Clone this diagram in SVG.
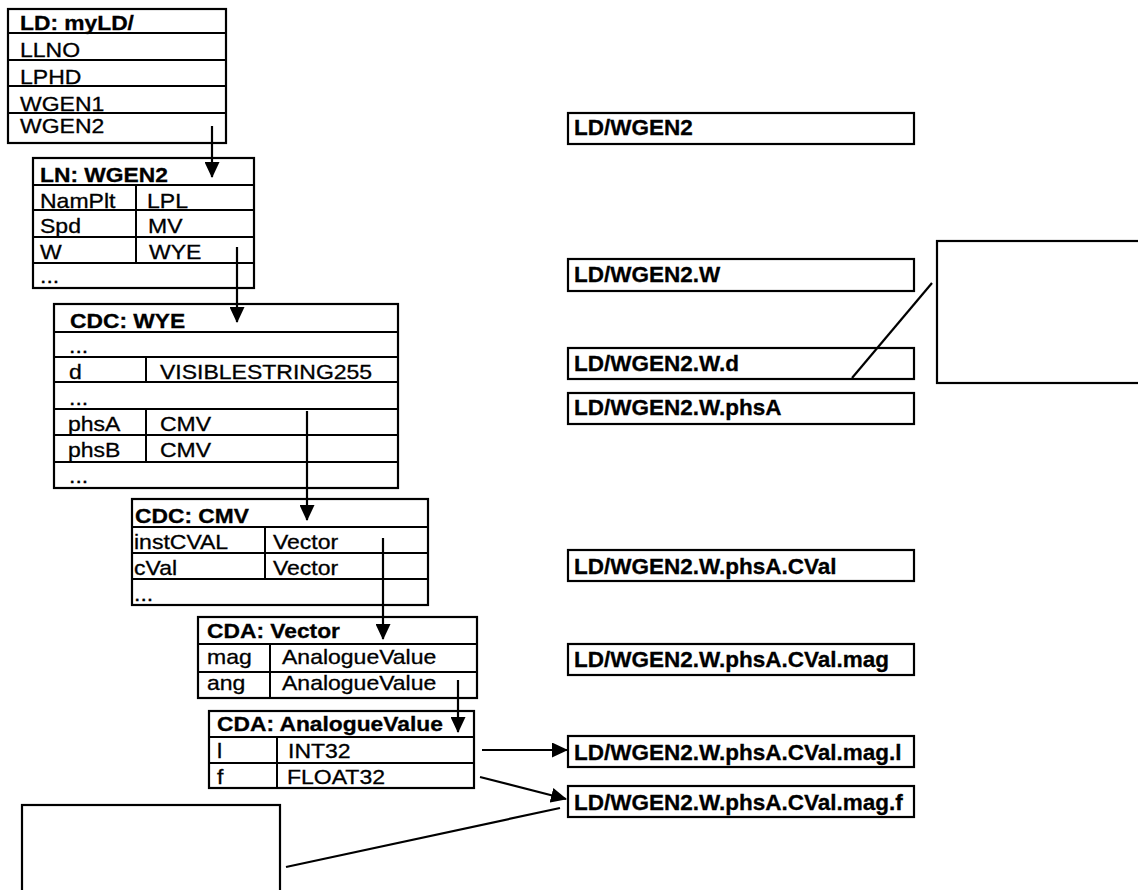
<svg xmlns="http://www.w3.org/2000/svg" width="1138" height="890" viewBox="0 0 1138 890">
<style>
  .box{fill:#fff;stroke:#000;stroke-width:2.2}
  .ln{stroke:#000;stroke-width:2;fill:none}
  .t{font-family:"Liberation Sans",Arial,sans-serif;font-size:20px;fill:#000;stroke:#000;stroke-width:0.3}
  .b{font-weight:bold}
  .r{font-family:"Liberation Sans",Arial,sans-serif;font-size:22.5px;font-weight:bold;fill:#000;stroke:#000;stroke-width:0.3}
  .c{stroke:#000;stroke-width:2.2;fill:none}
</style>
<defs>
  <marker id="ah" markerUnits="userSpaceOnUse" markerWidth="16" markerHeight="15" refX="15" refY="7.5" orient="auto" viewBox="0 0 16 15">
    <path d="M0,0 L16,7.5 L0,15 z" fill="#000"/>
  </marker>
</defs>
<rect width="1138" height="890" fill="#fff"/>

<g id="ld">
  <rect class="box" x="8" y="9" width="218" height="134"/>
  <path class="ln" d="M8,33H226M8,60H226M8,86H226M8,113H226"/>
  <text class="t b" transform="translate(20 30) scale(1.14 1)">LD: myLD/</text>
  <text class="t" transform="translate(20 57) scale(1.15 1)">LLNO</text>
  <text class="t" transform="translate(20 84) scale(1.15 1)">LPHD</text>
  <text class="t" transform="translate(20 111) scale(1.15 1)">WGEN1</text>
  <text class="t" transform="translate(20 133) scale(1.15 1)">WGEN2</text>
</g>

<g id="ln">
  <rect class="box" x="33" y="158" width="221" height="130"/>
  <path class="ln" d="M33,185H254M33,210H254M33,237H254M33,263H254M136,185V263"/>
  <text class="t b" transform="translate(40 182) scale(1.14 1)">LN: WGEN2</text>
  <text class="t" transform="translate(40 208) scale(1.15 1)">NamPlt</text>
  <text class="t" transform="translate(147 208) scale(1.15 1)">LPL</text>
  <text class="t" transform="translate(40 233) scale(1.15 1)">Spd</text>
  <text class="t" transform="translate(148 233) scale(1.15 1)">MV</text>
  <text class="t" transform="translate(40 259) scale(1.15 1)">W</text>
  <text class="t" transform="translate(149 259) scale(1.15 1)">WYE</text>
  <text class="t" transform="translate(40 283) scale(1.15 1)">...</text>
</g>

<g id="wye">
  <rect class="box" x="54" y="304" width="344" height="184"/>
  <path class="ln" d="M54,332H398M54,357H398M54,382H398M54,409H398M54,435H398M54,462H398M146,357V382M146,409V462"/>
  <text class="t b" transform="translate(70 328) scale(1.14 1)">CDC: WYE</text>
  <text class="t" transform="translate(69 353) scale(1.15 1)">...</text>
  <text class="t" transform="translate(69 379) scale(1.15 1)">d</text>
  <text class="t" transform="translate(160 379) scale(1.15 1)">VISIBLESTRING255</text>
  <text class="t" transform="translate(69 405) scale(1.15 1)">...</text>
  <text class="t" transform="translate(68 431) scale(1.15 1)">phsA</text>
  <text class="t" transform="translate(160 431) scale(1.15 1)">CMV</text>
  <text class="t" transform="translate(68 457) scale(1.15 1)">phsB</text>
  <text class="t" transform="translate(160 457) scale(1.15 1)">CMV</text>
  <text class="t" transform="translate(69 483) scale(1.15 1)">...</text>
</g>

<g id="cmv">
  <rect class="box" x="132" y="499" width="296" height="106"/>
  <path class="ln" d="M132,527H428M132,553H428M132,579H428M265,527V579"/>
  <text class="t b" transform="translate(135 523) scale(1.14 1)">CDC: CMV</text>
  <text class="t" transform="translate(134 549) scale(1.15 1)">instCVAL</text>
  <text class="t" transform="translate(273 549) scale(1.15 1)">Vector</text>
  <text class="t" transform="translate(134 575) scale(1.15 1)">cVal</text>
  <text class="t" transform="translate(273 575) scale(1.15 1)">Vector</text>
  <text class="t" transform="translate(134 601) scale(1.15 1)">...</text>
</g>

<g id="vector">
  <rect class="box" x="198" y="617" width="279" height="81"/>
  <path class="ln" d="M198,644H477M198,672H477M270,644V698"/>
  <text class="t b" transform="translate(207 638) scale(1.14 1)">CDA: Vector</text>
  <text class="t" transform="translate(207 664) scale(1.15 1)">mag</text>
  <text class="t" transform="translate(282 664) scale(1.15 1)">AnalogueValue</text>
  <text class="t" transform="translate(207 690) scale(1.15 1)">ang</text>
  <text class="t" transform="translate(282 690) scale(1.15 1)">AnalogueValue</text>
</g>

<g id="analoguevalue">
  <rect class="box" x="209" y="711" width="265" height="77"/>
  <path class="ln" d="M209,737H474M209,763H474M277,737V788"/>
  <text class="t b" transform="translate(217 731) scale(1.14 1)">CDA: AnalogueValue</text>
  <text class="t" transform="translate(217 758) scale(1.15 1)">l</text>
  <text class="t" transform="translate(288 758) scale(1.15 1)">INT32</text>
  <text class="t" transform="translate(217 784) scale(1.15 1)">f</text>
  <text class="t" transform="translate(287 784) scale(1.15 1)">FLOAT32</text>
</g>

<g id="ref-wgen2">
  <rect class="box" x="568" y="113" width="346" height="31"/>
  <text class="r" x="574" y="135">LD/WGEN2</text>
</g>
<g id="ref-w">
  <rect class="box" x="568" y="259" width="346" height="32"/>
  <text class="r" x="574" y="282">LD/WGEN2.W</text>
</g>
<g id="ref-d">
  <rect class="box" x="568" y="348" width="346" height="31"/>
  <text class="r" x="574" y="371">LD/WGEN2.W.d</text>
</g>
<g id="ref-phsa">
  <rect class="box" x="568" y="393" width="346" height="31"/>
  <text class="r" x="574" y="415">LD/WGEN2.W.phsA</text>
</g>
<g id="ref-cval">
  <rect class="box" x="568" y="550" width="346" height="31"/>
  <text class="r" x="574" y="574">LD/WGEN2.W.phsA.CVal</text>
</g>
<g id="ref-mag">
  <rect class="box" x="568" y="644" width="346" height="31"/>
  <text class="r" x="574" y="667">LD/WGEN2.W.phsA.CVal.mag</text>
</g>
<g id="ref-magl">
  <rect class="box" x="568" y="736" width="346" height="31"/>
  <text class="r" x="574" y="760">LD/WGEN2.W.phsA.CVal.mag.l</text>
</g>
<g id="ref-magf">
  <rect class="box" x="568" y="786" width="346" height="31"/>
  <text class="r" x="574" y="810">LD/WGEN2.W.phsA.CVal.mag.f</text>
</g>

<g id="note-right">
  <rect class="box" x="937" y="241" width="210" height="142"/>
</g>
<g id="note-bottom">
  <rect class="box" x="22" y="805" width="258" height="100"/>
</g>

<g id="connectors">
  <line class="c" x1="212" y1="126" x2="212" y2="177" marker-end="url(#ah)"/>
  <line class="c" x1="237" y1="247" x2="237" y2="322" marker-end="url(#ah)"/>
  <line class="c" x1="307" y1="411" x2="307" y2="520" marker-end="url(#ah)"/>
  <line class="c" x1="383" y1="538" x2="383" y2="639" marker-end="url(#ah)"/>
  <line class="c" x1="458" y1="680" x2="458" y2="732" marker-end="url(#ah)"/>
  <line class="c" x1="482" y1="750" x2="567" y2="750" marker-end="url(#ah)"/>
  <line class="c" x1="480" y1="777" x2="566" y2="799" marker-end="url(#ah)"/>
  <line class="c" x1="852" y1="378" x2="932" y2="283"/>
  <line class="c" x1="286" y1="867" x2="560" y2="808"/>
</g>
</svg>
